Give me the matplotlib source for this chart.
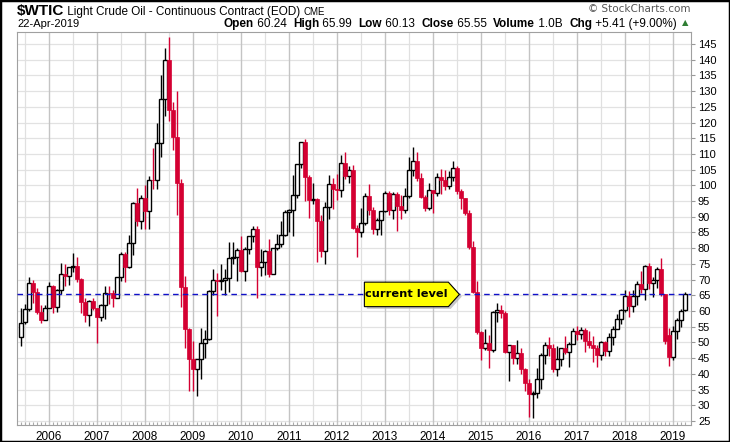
import numpy as np
import matplotlib.pyplot as plt
from matplotlib.patches import Polygon, Rectangle

# monthly candles, Jun 2005 .. Apr 2019
start_year, start_month = 2005, 6

opens = [
    51.6, 56.6, 60.6, 69.0, 66.2, 59.8, 57.3,
    61.0, 68.0, 61.4, 66.6, 71.9, 71.3, 73.9, 74.4, 70.3, 62.9, 58.7, 63.1,
    61.1, 58.1, 61.8, 65.9, 65.7, 64.0, 70.7, 78.2, 74.0, 81.7, 94.5, 88.7,
    96.0, 91.8, 101.8, 101.6, 113.5, 127.4, 140.0, 124.1, 115.5, 100.6, 67.8, 54.4,
    44.6, 41.7, 44.8, 49.7, 51.1, 66.3, 69.9, 69.5, 70.0, 70.6, 77.0, 77.3,
    79.4, 72.9, 79.7, 83.8, 86.2, 74.0, 75.6, 79.0, 71.9, 80.0, 81.4, 84.1,
    91.4, 92.2, 97.0, 106.7, 113.9, 102.7, 95.4, 95.7, 88.8, 79.2, 93.2, 100.4,
    98.8, 98.5, 107.1, 103.0, 104.9, 86.5, 85.0, 88.1, 96.5, 92.2, 86.2, 88.9,
    91.8, 97.5, 92.1, 97.2, 93.5, 92.0, 96.6, 105.0, 107.7, 102.3, 96.4, 92.7,
    98.4, 97.5, 102.6, 101.6, 99.7, 102.7, 105.4, 98.2, 96.0, 91.2, 80.5, 66.2,
    53.3, 48.2, 49.8, 47.6, 59.6, 60.3, 59.5, 47.1, 49.2, 45.1, 46.6, 41.7,
    37.0, 33.6, 33.8, 38.3, 45.9, 49.1, 48.3, 41.6, 44.7, 48.2, 46.9, 49.4,
    53.7, 52.8, 54.0, 50.6, 49.3, 48.3, 46.0, 50.2, 47.2, 51.7, 54.4, 57.4,
    60.4, 64.7, 61.6, 64.9, 68.6, 67.0, 74.2, 68.8, 69.8, 73.3, 65.3, 52.4,
    45.4, 53.8, 57.2, 60.24,
]
highs = [
    60.9, 62.1, 70.9, 69.8, 67.2, 62.0, 61.9,
    69.2, 68.4, 67.1, 75.4, 74.9, 74.1, 78.4, 77.3, 70.4, 64.2, 63.6, 64.3,
    61.1, 62.3, 68.1, 67.9, 66.6, 70.8, 78.8, 78.8, 84.1, 94.8, 99.3, 97.0,
    100.1, 103.1, 111.8, 119.9, 135.1, 143.7, 147.3, 126.5, 130.0, 102.0, 71.2, 54.7,
    50.5, 43.8, 54.7, 54.0, 66.8, 73.4, 72.0, 75.0, 73.3, 82.0, 82.0, 80.0,
    83.9, 80.5, 83.9, 87.2, 87.2, 79.9, 79.3, 82.9, 80.0, 84.4, 88.6, 92.0,
    92.6, 103.4, 106.9, 113.9, 114.8, 103.4, 100.6, 96.0, 90.5, 94.7, 103.4, 102.4,
    103.7, 109.8, 110.6, 106.0, 106.4, 87.3, 92.9, 97.5, 100.4, 93.0, 89.6, 91.9,
    98.2, 98.2, 97.8, 97.8, 97.0, 99.0, 108.9, 112.2, 110.7, 104.0, 96.8, 100.8,
    98.5, 104.0, 105.2, 104.9, 104.5, 107.7, 106.3, 98.7, 96.0, 92.1, 82.2, 69.6,
    53.6, 54.2, 52.5, 59.9, 62.6, 61.9, 59.9, 49.3, 49.3, 50.9, 48.4, 42.0,
    38.4, 34.7, 41.9, 46.8, 50.2, 51.7, 49.4, 49.0, 48.4, 52.2, 50.2, 54.5,
    55.2, 54.9, 54.6, 53.8, 52.0, 49.3, 50.4, 50.4, 52.9, 55.2, 59.1, 60.5,
    66.7, 66.3, 66.6, 69.6, 72.9, 74.5, 75.3, 70.7, 73.9, 76.9, 65.3, 54.6,
    55.4, 57.8, 60.7, 65.99,
]
lows = [
    49.0, 55.9, 60.0, 62.6, 59.0, 56.3, 57.0,
    60.9, 59.3, 59.8, 65.5, 68.0, 68.3, 72.5, 69.2, 59.5, 56.5, 55.3, 60.3,
    49.9, 56.9, 57.5, 62.2, 61.4, 64.0, 69.6, 69.1, 73.8, 77.9, 87.0, 86.1,
    86.1, 86.1, 98.7, 98.7, 109.1, 122.0, 120.4, 111.3, 90.5, 61.3, 48.3, 34.6,
    34.6, 33.1, 38.4, 45.0, 50.7, 65.1, 58.3, 66.6, 65.1, 66.0, 75.0, 69.5,
    72.4, 69.5, 78.1, 82.1, 64.2, 71.1, 71.5, 70.8, 72.0, 79.3, 80.3, 84.0,
    85.1, 83.9, 96.0, 105.4, 95.0, 89.6, 94.0, 75.7, 77.1, 74.9, 89.2, 92.5,
    95.4, 96.3, 102.1, 100.7, 86.1, 77.3, 83.7, 87.3, 90.5, 84.5, 84.1, 84.1,
    91.4, 90.5, 89.3, 85.6, 89.3, 91.1, 95.9, 103.1, 101.5, 96.0, 91.8, 92.2,
    91.2, 96.5, 97.4, 98.6, 98.9, 101.4, 97.2, 92.5, 90.6, 79.8, 65.7, 52.7,
    44.4, 47.7, 42.0, 47.1, 56.5, 57.9, 46.7, 37.8, 43.2, 43.2, 39.9, 34.5,
    26.2, 26.1, 32.2, 35.2, 43.0, 45.8, 40.6, 39.2, 42.5, 46.4, 42.2, 49.6,
    50.7, 51.2, 47.1, 48.2, 43.8, 42.1, 44.4, 45.6, 45.6, 49.1, 54.2, 55.8,
    59.6, 58.1, 59.8, 61.8, 65.8, 63.6, 67.0, 64.4, 67.3, 64.9, 49.4, 42.4,
    44.4, 51.2, 55.0, 60.13,
]
closes = [
    56.1, 60.6, 68.9, 66.2, 59.8, 57.3, 61.0,
    67.9, 61.4, 66.6, 71.9, 71.3, 73.9, 74.4, 70.3, 62.9, 58.7, 63.1, 61.1,
    58.1, 61.8, 65.9, 65.7, 64.0, 70.7, 78.2, 74.0, 81.7, 94.5, 88.7, 96.0,
    91.8, 101.8, 101.6, 113.5, 127.4, 140.0, 124.1, 115.5, 100.6, 67.8, 54.4, 44.6,
    41.7, 44.8, 49.7, 51.1, 66.3, 69.9, 69.5, 70.0, 70.6, 77.0, 77.3, 79.4,
    72.9, 79.7, 83.8, 86.2, 74.0, 75.6, 79.0, 71.9, 80.0, 81.4, 84.1, 91.4,
    92.2, 97.0, 106.7, 113.9, 102.7, 95.4, 95.7, 88.8, 79.2, 93.2, 100.4, 98.8,
    98.5, 107.1, 103.0, 104.9, 86.5, 85.0, 88.1, 96.5, 92.2, 86.2, 88.9, 91.8,
    97.5, 92.1, 97.2, 93.5, 92.0, 96.6, 105.0, 107.7, 102.3, 96.4, 92.7, 98.4,
    97.5, 102.6, 101.6, 99.7, 102.7, 105.4, 98.2, 96.0, 91.2, 80.5, 66.2, 53.3,
    48.2, 49.8, 47.6, 59.6, 60.3, 59.5, 47.1, 49.2, 45.1, 46.6, 41.7, 37.0,
    33.6, 33.8, 38.3, 45.9, 49.1, 48.3, 41.6, 44.7, 48.2, 46.9, 49.4, 53.7,
    52.8, 54.0, 50.6, 49.3, 48.3, 46.0, 50.2, 47.2, 51.7, 54.4, 57.4, 60.4,
    64.7, 61.6, 64.9, 68.6, 67.0, 74.2, 68.8, 69.8, 73.3, 65.3, 50.6, 45.4,
    53.8, 57.2, 60.1, 65.55,
]

year_labels = list(range(2006, 2020))
price_ticks = list(range(25, 150, 5))
current_level = 65.3

title_parts = [("$WTIC", 11, 'bold'), (" Light Crude Oil - Continuous Contract (EOD) ", 8.5, 'normal'),
               ("CME", 7, 'normal')]
header_parts = [("Open", True), (" 60.24  ", False), ("High", True), (" 65.99  ", False),
                ("Low", True), (" 60.13  ", False), ("Close", True), (" 65.55  ", False),
                ("Volume", True), (" 1.0B  ", False), ("Chg", True), (" +5.41 (+9.00%) ", False)]

RED = '#d40032'
n = len(closes)
months = np.arange(n) + (start_month - 1)
x = start_year + months / 12.0
o = np.array(opens); h = np.array(highs); l = np.array(lows); c = np.array(closes)
up = c >= o

plt.rcParams['font.family'] = ['Liberation Sans', 'DejaVu Sans']
fig = plt.figure(figsize=(7.3, 4.42), dpi=100)
ax = fig.add_axes([17/730, 17/442, 674/730, 393/442])

# grid
for yv in price_ticks:
    ax.axhline(yv, color='#e2e2e2', lw=0.9, zorder=0)
for yr in year_labels:
    ax.axvline(yr, color='#c4c4c4', lw=1.0, zorder=0)
for yr in range(2005, 2019):
    ax.axvline(yr + 0.5, color='#e0e0e0', lw=0.9, zorder=0)

# candles
w = 0.8 / 12
ax.vlines(x[up], l[up], h[up], color='black', lw=1.0, zorder=2)
ax.vlines(x[~up], l[~up], h[~up], color=RED, lw=1.0, zorder=2)
ax.bar(x[up], (c - o)[up], bottom=o[up], width=w, color='white',
       edgecolor='black', linewidth=1.0, zorder=3)
ax.bar(x[~up], (o - c)[~up], bottom=c[~up], width=w, color=RED,
       edgecolor=RED, linewidth=0.5, zorder=3)

ax.axhline(current_level, color='#1010c8', lw=1.0, ls=(0, (4, 3)), zorder=4)

# callout box
tip_x = 2014.55
bx0, bx1 = tip_x - 1.98, tip_x - 0.23
hh = 3.9
shape = [(bx0, current_level - hh), (bx0, current_level + hh), (bx1, current_level + hh),
         (tip_x, current_level), (bx1, current_level - hh)]
sh = [(px + 0.05, py - 0.7) for px, py in shape]
ax.add_patch(Polygon(sh, closed=True, fc='#b0b0b0', ec='none', alpha=0.7, zorder=5))
ax.add_patch(Polygon(shape, closed=True, fc='#ffff00', ec='black', lw=0.8, zorder=6))
ax.text((bx0 + bx1) / 2, current_level, 'current level', ha='center', va='center',
        fontsize=8.2, fontweight='bold', family='DejaVu Sans', zorder=7)

ax.set_xticks(year_labels)
ax.set_xticklabels([str(y) for y in year_labels], fontsize=8.5)
ax.set_xticks(start_year + np.arange(5, 172) / 12.0, minor=True)
ax.tick_params(axis='x', which='major', length=0, pad=4)
ax.tick_params(axis='x', which='minor', length=2, direction='in', color='#aaaaaa', width=0.8)
ax.yaxis.tick_right()
ax.set_yticks(price_ticks)
ax.set_yticklabels([str(v) for v in price_ticks], fontsize=8)
ax.tick_params(axis='y', length=3, color='#999999', pad=2)
ax.set_xlim(2005.333, 2019.375)
ax.set_ylim(23.74, 148.8)
for s in ax.spines.values():
    s.set_color('#a0a0a0')
    s.set_linewidth(0.8)
ax.spines['bottom'].set_linestyle((0, (1, 1)))

fig.text(690/730, 1 - 9/442, '\u00a9 StockCharts.com', fontsize=7.5, color='#555555',
         ha='right', va='center', family='DejaVu Sans')
fig.text(17/730, 1 - 24/442, '22-Apr-2019', fontsize=8, va='center')

fig.canvas.draw()
renderer = fig.canvas.get_renderer()

# title line, laid out left to right
xpos = 17
for s, fs, fw in title_parts:
    t = fig.text(xpos / 730, 1 - 15/442, s, fontsize=fs, fontweight=fw, va='baseline')
    xpos += t.get_window_extent(renderer).width

# quote line, right aligned
texts = []
for s, bold in header_parts:
    t = fig.text(0, 1 - 24/442, s, fontsize=8.5, fontweight='bold' if bold else 'normal', va='center')
    texts.append(t)
widths = [t.get_window_extent(renderer).width for t in texts]
xpos = 680 - sum(widths)
for t, wd in zip(texts, widths):
    t.set_x(xpos / 730)
    xpos += wd
fig.text(685/730, 1 - 23/442, '\u25b2', fontsize=6, color='#2e7d32', ha='center', va='center',
         family='DejaVu Sans')

fig.patches.append(Rectangle((0, 0), 1, 1, transform=fig.transFigure, fill=False,
                             ec='black', lw=2.5, zorder=10))

fig.savefig('out.png', dpi=100)
